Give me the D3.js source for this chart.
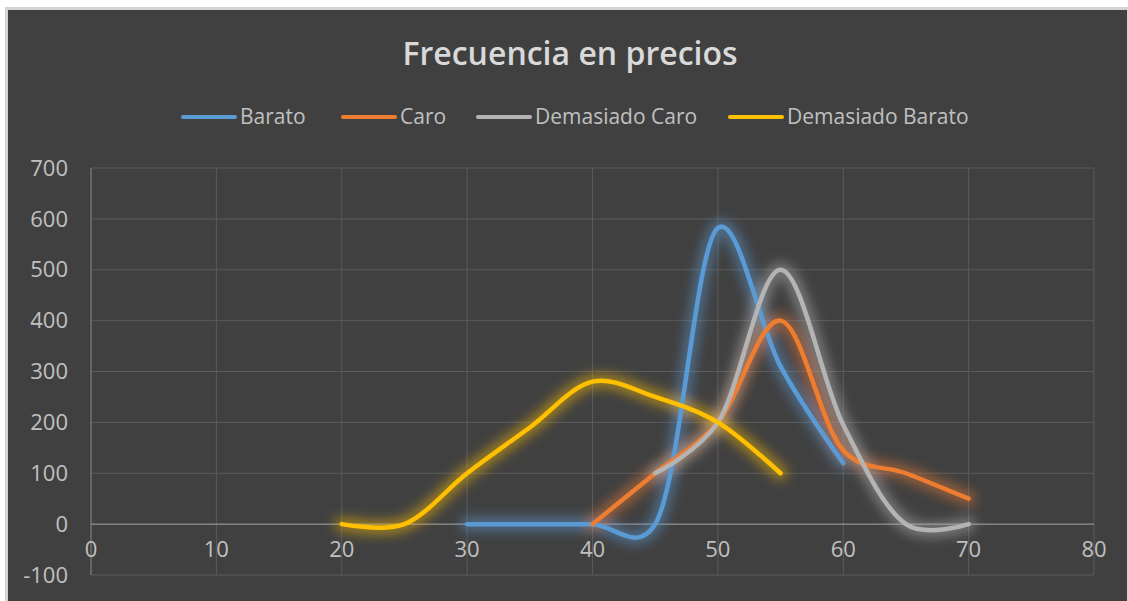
<!DOCTYPE html>
<html>
<head>
<meta charset="utf-8">
<script src="https://cdnjs.cloudflare.com/ajax/libs/d3/7.8.5/d3.min.js"></script>
<style>
  body { margin:0; background:#ffffff; }
  svg { display:block; }
</style>
</head>
<body>
<svg id="chart"></svg>
<script>
var width = 1128,
    height = 601;

// data
var seriesNames = ['Barato', 'Caro', 'Demasiado Caro', 'Demasiado Barato'];
var seriesColors = ['#5b9bd5', '#ed7d31', '#b4b4b4', '#ffc000'];

var baratoX = [30, 35, 40, 45, 50, 55, 60];
var baratoY = [0, 0, 0, 0, 582, 310, 120];

var caroX = [40, 45, 50, 55, 60, 65, 70];
var caroY = [0, 100, 200, 400, 145, 100, 50];

var demCaroX = [45, 50, 55, 60, 65, 70];
var demCaroY = [100, 200, 500, 195, 0, 0];

var demBaratoX = [20, 25, 30, 35, 40, 45, 50, 55];
var demBaratoY = [0, 0, 100, 190, 280, 250, 200, 100];

var xTicks = [0, 10, 20, 30, 40, 50, 60, 70, 80];
var yTicks = [-100, 0, 100, 200, 300, 400, 500, 600, 700];

var chartTitle = 'Frecuencia en precios';

var seriesX = [baratoX, caroX, demCaroX, demBaratoX];
var seriesY = [baratoY, caroY, demCaroY, demBaratoY];

var series = seriesNames.map((name, i) => {
  return {
    name: name,
    color: seriesColors[i],
    values: seriesX[i].map((x, j) => ({x: x, y: seriesY[i][j]}))
  };
});

var svg = d3.select('#chart')
            .attr('width', width)
            .attr('height', height);

// outer frame + dark chart area
svg.append('rect')
    .attr('x', 5).attr('y', 7)
    .attr('width', width - 5).attr('height', height - 7)
    .attr('fill', '#d4d4d4');
svg.append('rect')
    .attr('x', 8).attr('y', 10)
    .attr('width', width - 9).attr('height', height - 10)
    .attr('fill', '#404040');

var defs = svg.append('defs');
defs.append('filter')
      .attr('id', 'glow')
      .attr('x', '-20%').attr('y', '-20%')
      .attr('width', '140%').attr('height', '140%')
    .append('feGaussianBlur')
      .attr('stdDeviation', 6);

var plotLeft = 91, plotRight = 1094, plotTop = 168, plotBottom = 575;

var xScale = d3.scaleLinear()
                .domain([0, 80])
                .range([plotLeft, plotRight]);

var yScale = d3.scaleLinear()
                .domain([-100, 700])
                .range([plotBottom, plotTop]);

// gridlines
svg.append('g')
    .selectAll('line')
    .data(yTicks.filter(d => d !== 0))
    .enter()
    .append('line')
      .attr('x1', plotLeft).attr('x2', plotRight)
      .attr('y1', d => yScale(d)).attr('y2', d => yScale(d))
      .attr('stroke', '#5a5a5a')
      .attr('stroke-width', 1);

svg.append('g')
    .selectAll('line')
    .data(xTicks.filter(d => d !== 0))
    .enter()
    .append('line')
      .attr('x1', d => xScale(d)).attr('x2', d => xScale(d))
      .attr('y1', plotTop).attr('y2', plotBottom)
      .attr('stroke', '#5a5a5a')
      .attr('stroke-width', 1);

// axis lines
svg.append('line')
    .attr('x1', plotLeft).attr('x2', plotLeft)
    .attr('y1', plotTop).attr('y2', plotBottom)
    .attr('stroke', '#8a8a8a');
svg.append('line')
    .attr('x1', plotLeft).attr('x2', plotRight)
    .attr('y1', yScale(0)).attr('y2', yScale(0))
    .attr('stroke', '#a6a6a6');

// tick labels
svg.append('g')
    .selectAll('text')
    .data(yTicks)
    .enter()
    .append('text')
      .attr('x', 68)
      .attr('y', d => yScale(d))
      .attr('dy', '0.35em')
      .attr('text-anchor', 'end')
      .attr('font-family', 'Open Sans, sans-serif')
      .attr('font-size', 22)
      .attr('fill', '#c0c0c0')
      .text(d => d);

svg.append('g')
    .selectAll('text')
    .data(xTicks)
    .enter()
    .append('text')
      .attr('x', d => xScale(d))
      .attr('y', (yScale(0) + yScale(-100)) / 2)
      .attr('dy', '0.35em')
      .attr('text-anchor', 'middle')
      .attr('font-family', 'Open Sans, sans-serif')
      .attr('font-size', 22)
      .attr('fill', '#c0c0c0')
      .text(d => d);

// lines (excel-like smoothing)
var line = d3.line()
              .x(d => xScale(d.x))
              .y(d => yScale(d.y))
              .curve(d3.curveCatmullRom.alpha(0.2));

var glows = svg.append('g').attr('filter', 'url(#glow)');
glows.selectAll('path')
    .data(series)
    .enter()
    .append('path')
      .attr('d', d => line(d.values))
      .attr('fill', 'none')
      .attr('stroke', d => d.color)
      .attr('stroke-width', 14)
      .attr('stroke-linecap', 'round')
      .attr('stroke-opacity', 0.5);

svg.append('g')
    .selectAll('path')
    .data(series)
    .enter()
    .append('path')
      .attr('d', d => line(d.values))
      .attr('fill', 'none')
      .attr('stroke', d => d.color)
      .attr('stroke-width', 4.5)
      .attr('stroke-linecap', 'round');

// title
svg.append('text')
    .attr('x', 570)
    .attr('y', 54)
    .attr('dy', '0.35em')
    .attr('text-anchor', 'middle')
    .attr('font-family', 'Open Sans, sans-serif')
    .attr('font-weight', 600)
    .attr('font-size', 32)
    .attr('fill', '#d9d9d9')
    .text(chartTitle);

// legend
var legendX = [183, 343, 478, 730];
var legend = svg.append('g')
                .selectAll('g')
                .data(series)
                .enter()
                .append('g')
                  .attr('transform', (d, i) => 'translate(' + legendX[i] + ',117)');
legend.append('line')
    .attr('x1', 0).attr('x2', 52)
    .attr('stroke', d => d.color)
    .attr('stroke-width', 4)
    .attr('stroke-linecap', 'round');
legend.append('text')
    .attr('x', 57)
    .attr('dy', '0.35em')
    .attr('font-family', 'Open Sans, sans-serif')
    .attr('font-size', 21)
    .attr('fill', '#c0c0c0')
    .text(d => d.name);
</script>
</body>
</html>
